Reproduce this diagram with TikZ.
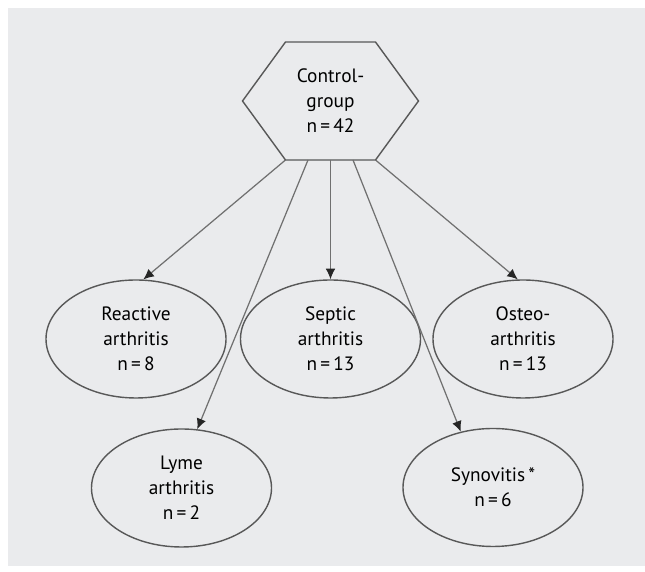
\documentclass[tikz,border=0pt]{standalone}
\usepackage{fontspec}
\setmainfont{PT Sans}
\usetikzlibrary{shapes.geometric,arrows.meta}
\definecolor{bggray}{RGB}{234,235,237}
\definecolor{linegray}{RGB}{112,112,112}
\definecolor{edgegray}{RGB}{88,88,88}
\begin{document}
\begin{tikzpicture}[
  font=\fontsize{11}{14.2}\selectfont,
  grp/.style={ellipse, draw=edgegray, line width=0.8pt, minimum width=3.6cm, minimum height=2.36cm, inner sep=0pt, align=center, text=black},
  arr/.style={draw=linegray, line width=0.7pt, -{Latex[length=6pt,width=5.5pt,color=black!85]}}
]
\useasboundingbox (0,0) rectangle (12.9,11.44);
\fill[bggray] (0.16,0.12) rectangle (12.9,11.28);

\node[outer sep=0pt, inner sep=0pt, minimum width=1.8cm, minimum height=2.36cm, align=center, text=black] (C) at (6.61,9.42) {Control-\\group\\n\,=\,42};
\draw[edgegray, line width=0.8pt] (C.north west) -- (C.north east) -- ([xshift=0.86cm] C.east) -- (C.south east)
	-- (C.south west) -- ([xshift=-0.86cm] C.west) -- cycle;

\node[grp] (R) at (2.72,4.66) {Reactive\\arthritis\\n\,=\,8};
\node[grp] (S) at (6.61,4.66) {Septic\\arthritis\\n\,=\,13};
\node[grp] (O) at (10.46,4.66) {Osteo-\\arthritis\\n\,=\,13};
\node[grp] (L) at (3.63,1.68) {Lyme\\arthritis\\n\,=\,2};
\node[grp] (Y) at (9.86,1.69) {Synovitis\,*\\n\,=\,6};

\draw[arr] (C.south west) -- (R.83);
\draw[arr] ([xshift=-0.45cm] C.south) -- (L.75);
\draw[arr] (C.south) -- (S.north);
\draw[arr] ([xshift=0.45cm] C.south) -- (Y.120);
\draw[arr] (C.south east) -- (O.95);
\end{tikzpicture}
\end{document}
